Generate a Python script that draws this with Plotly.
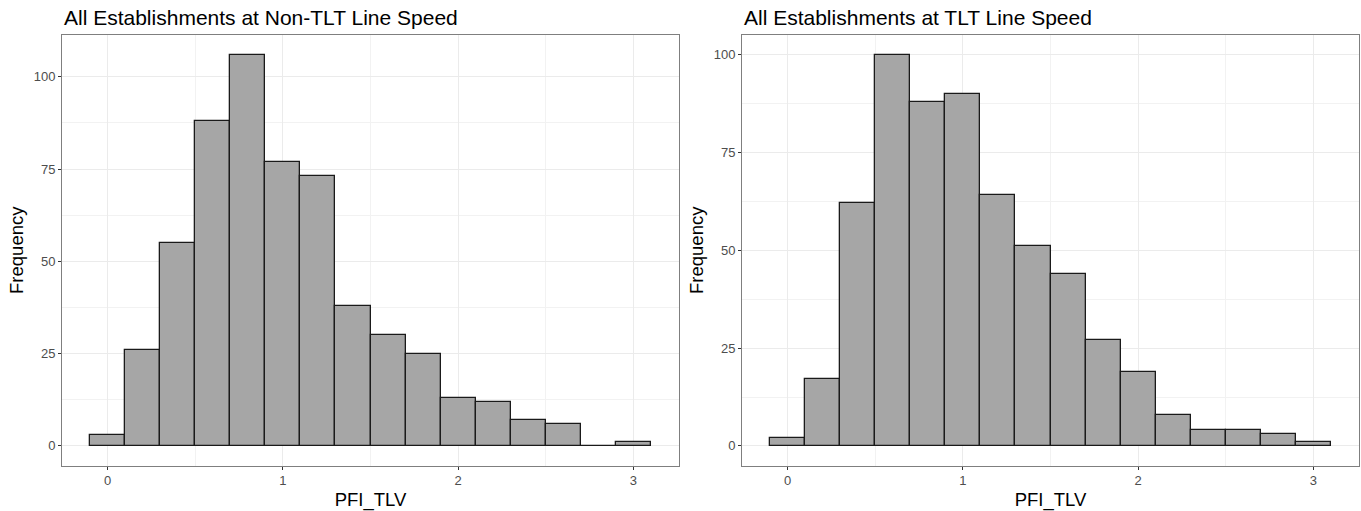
import plotly.graph_objects as go

bin_centers = [0.0, 0.2, 0.4, 0.6, 0.8, 1.0, 1.2, 1.4, 1.6, 1.8, 2.0, 2.2, 2.4, 2.6, 2.8, 3.0]
non_tlt_counts = [3, 26, 55, 88, 106, 77, 73, 38, 30, 25, 13, 12, 7, 6, 0, 1]
tlt_counts = [2, 17, 62, 100, 88, 90, 64, 51, 44, 27, 19, 8, 4, 4, 3, 1]
titles = ["All Establishments at Non-TLT Line Speed", "All Establishments at TLT Line Speed"]
x_ticks = [0, 1, 2, 3]
y_ticks = [0, 25, 50, 75, 100]

W, H = 1361, 511
left_dom = [62 / W, 679 / W]
right_dom = [742 / W, 1359 / W]
y_dom = [1 - 465.5 / H, 1 - 35 / H]

fig = go.Figure()
bar_style = dict(marker=dict(color="#A6A6A6", line=dict(color="#1A1A1A", width=1.3)),
                 width=0.2, showlegend=False, hoverinfo="x+y")
fig.add_trace(go.Bar(x=bin_centers, y=non_tlt_counts, xaxis="x", yaxis="y", **bar_style))
fig.add_trace(go.Bar(x=bin_centers, y=tlt_counts, xaxis="x2", yaxis="y2", **bar_style))

font = "Liberation Sans, Arial, sans-serif"
axis_common = dict(
    showline=True, linecolor="#7F7F7F", linewidth=1, mirror=True,
    showgrid=True, gridcolor="#EBEBEB", gridwidth=1,
    ticks="outside", ticklen=3, tickcolor="#333333", tickwidth=1,
    tickfont=dict(family=font, size=13, color="#4D4D4D"),
    zeroline=False,
)
xaxis_common = dict(axis_common, tickvals=x_ticks, range=[-0.26, 3.26],
                    minor=dict(tickvals=[0.5, 1.5, 2.5], showgrid=True, gridcolor="#F2F2F2", gridwidth=0.6, ticks=""),
                    title=dict(text="PFI_TLV", font=dict(family=font, size=18.5, color="#000000"), standoff=5))
ymax1 = max(non_tlt_counts)
ymax2 = max(tlt_counts)
yaxis_common = dict(axis_common, tickvals=y_ticks,
                    minor=dict(tickvals=[12.5, 37.5, 62.5, 87.5], showgrid=True, gridcolor="#F2F2F2", gridwidth=0.6, ticks=""),
                    title=dict(text="Frequency", font=dict(family=font, size=18.5, color="#000000"), standoff=5))

fig.update_layout(
    width=W, height=H,
    margin=dict(l=0, r=0, t=0, b=0),
    paper_bgcolor="white", plot_bgcolor="white",
    bargap=0,
    xaxis=dict(xaxis_common, domain=left_dom, anchor="y"),
    yaxis=dict(yaxis_common, domain=y_dom, anchor="x", range=[-0.05 * ymax1, 1.05 * ymax1]),
    xaxis2=dict(xaxis_common, domain=right_dom, anchor="y2"),
    yaxis2=dict(yaxis_common, domain=y_dom, anchor="x2", range=[-0.05 * ymax2, 1.05 * ymax2]),
    annotations=[
        dict(text=titles[0], x=left_dom[0], y=1 - 17.5 / H, xref="paper", yref="paper",
             xanchor="left", yanchor="middle", showarrow=False,
             font=dict(family=font, size=21, color="#000000")),
        dict(text=titles[1], x=right_dom[0], y=1 - 17.5 / H, xref="paper", yref="paper",
             xanchor="left", yanchor="middle", showarrow=False,
             font=dict(family=font, size=21, color="#000000")),
    ],
)

fig.write_html("out.html")
